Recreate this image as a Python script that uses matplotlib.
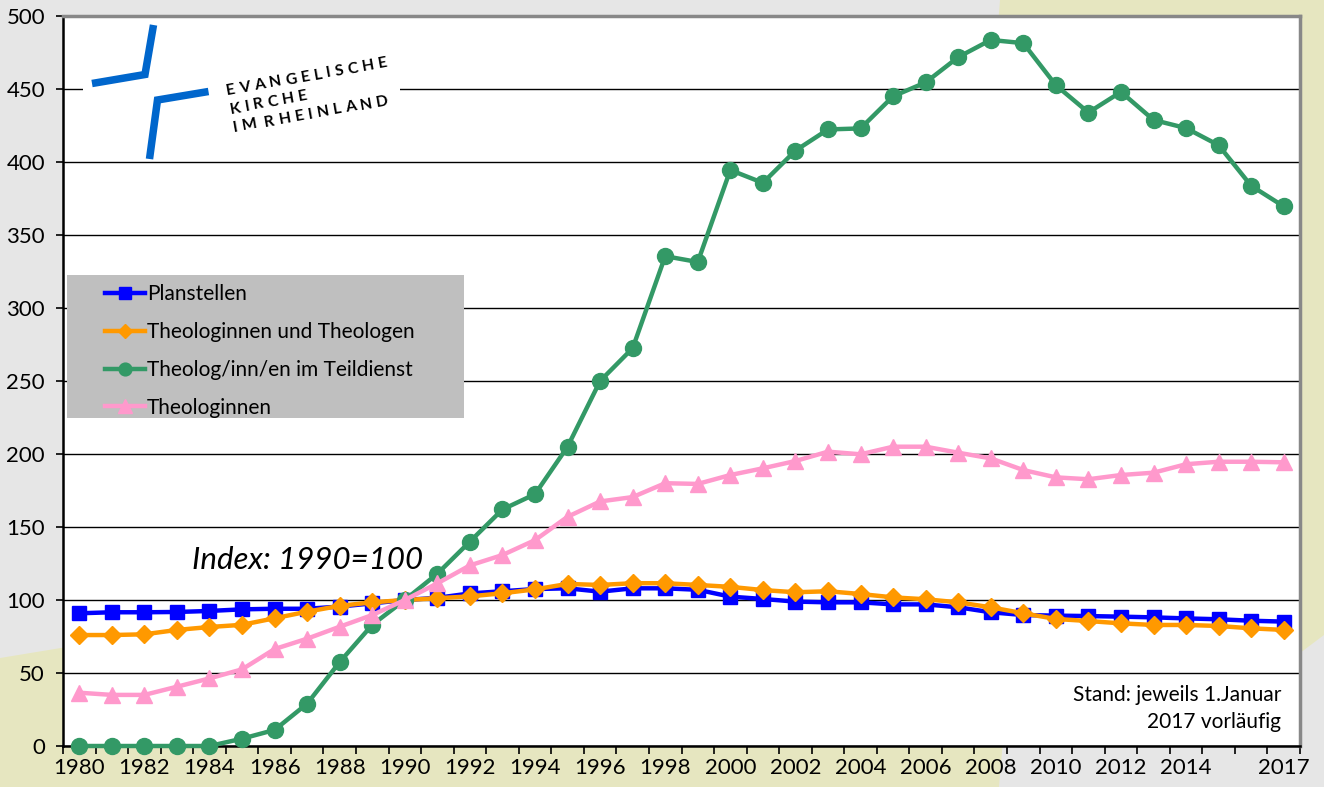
import math
import matplotlib
matplotlib.use("Agg")
import matplotlib.pyplot as plt
from matplotlib.patches import Polygon, Rectangle
from matplotlib.lines import Line2D
from matplotlib.font_manager import FontProperties
from matplotlib.textpath import text_to_path

W, H = 1324, 787

years = list(range(1980, 2018))
planstellen = [90.9, 91.6, 91.6, 91.8, 92.5, 93.6, 94.0, 94.0, 95.5, 97.7,
               100, 101.5, 104.5, 106.0, 107.5, 108.0, 105.7, 108.0, 108.0, 107.0,
               102.3, 100.7, 98.9, 98.4, 98.4, 97.0, 97.0, 95.0, 91.6, 89.7,
               89.3, 89.0, 88.6, 88.1, 87.4, 86.8, 85.8, 85.2]
theologen = [76, 76, 76.5, 79.5, 81.5, 83, 87.5, 92, 96, 98.4,
             100, 101.2, 102.5, 104.6, 107.3, 111, 110.3, 111.5, 111.5, 110.3,
             109, 106.8, 105.3, 106.0, 104.1, 101.8, 100.5, 98.4, 95, 90.9,
             87, 85.6, 84, 82.9, 82.9, 82.2, 80.6, 79.5]
teildienst = [0, 0, 0, 0, 0, 5, 11, 29, 57.5, 83,
              100, 118, 140, 162, 172.5, 205, 250, 272.5, 335.5, 331.5,
              394.5, 385.7, 407.8, 422.3, 423, 445, 454.5, 471.8, 483.6, 481.4,
              452.6, 433.9, 448, 428.8, 423.2, 411.5, 383.7, 369.6]
theologinnen = [36.5, 35, 35, 40.6, 46.3, 52.5, 66.4, 73.5, 81.7, 89.7,
                100, 111.4, 123.7, 130.8, 141, 157, 167.5, 170.5, 180, 179.5,
                185.6, 190.2, 195.2, 201.6, 199.8, 205, 205, 200.9, 197, 189,
                184, 182.7, 185.6, 187.2, 193, 194.7, 194.7, 194.3]

series_names = ["Planstellen", "Theologinnen und Theologen",
                "Theolog/inn/en im Teildienst", "Theologinnen"]
tick_years = [1980, 1982, 1984, 1986, 1988, 1990, 1992, 1994, 1996, 1998,
              2000, 2002, 2004, 2006, 2008, 2010, 2012, 2014, 2017]
y_ticks = [0, 50, 100, 150, 200, 250, 300, 350, 400, 450, 500]

plt.rcParams['font.family'] = ['Lato', 'DejaVu Sans']

fig = plt.figure(figsize=(W / 100, H / 100), dpi=100)
fig.patch.set_facecolor('#e6e6c0')

def fp(x, y):
    return (x / W, 1 - y / H)

# background gray regions
fig.patches.append(Polygon([fp(0, 0), fp(1000, 0), fp(960, 500), fp(0, 658)],
                           closed=True, transform=fig.transFigure,
                           facecolor='#e6e6e6', edgecolor='none', zorder=-10))
fig.patches.append(Polygon([fp(1324, 635), fp(1300, 653), fp(1003, 740),
                            fp(999, 787), fp(1324, 787)],
                           closed=True, transform=fig.transFigure,
                           facecolor='#e6e6e6', edgecolor='none', zorder=-10))

L, R, T, B = 63, 1300, 16, 746
ax = fig.add_axes([L / W, 1 - B / H, (R - L) / W, (B - T) / H])
ax.set_zorder(5)
ax.set_facecolor('white')

def axp(x, y):
    return ((x - L) / (R - L), (B - y) / (B - T))

colors = ['#0000ff', '#ff9900', '#339966', '#ff99cc']
markers = ['s', 'D', 'o', '^']
msizes = [10, 9.5, 11.5, 12]
data = [planstellen, theologen, teildienst, theologinnen]
for vals, c, m, ms, name in zip(data, colors, markers, msizes, series_names):
    ax.plot(years, vals, color=c, lw=3.2, marker=m, ms=ms, mfc=c, mec=c,
            label=name, zorder=3, clip_on=False)

ax.set_xlim(1979.5, 2017.5)
ax.set_ylim(0, 500)
ax.set_yticks(y_ticks)
ax.set_xticks(tick_years)
ax.set_xticks([y + 0.5 for y in range(1979, 2018)], minor=True)
ax.tick_params(axis='x', which='major', length=0, pad=9, labelsize=16)
ax.tick_params(axis='x', which='minor', length=6, width=1.2, direction='out')
ax.tick_params(axis='y', which='major', length=5, width=1.2, pad=8, labelsize=16)
ax.grid(axis='y', color='black', lw=1.0, zorder=0.5)
ax.set_axisbelow(True)

for s in ['left', 'bottom']:
    ax.spines[s].set_color('black')
    ax.spines[s].set_linewidth(1.8)
for s in ['top', 'right']:
    ax.spines[s].set_color('#888888')
    ax.spines[s].set_linewidth(2.5)

# legend background and legend
x0, y0 = axp(67, 418)
x1, y1 = axp(464, 275)
ax.add_patch(Rectangle((x0, y0), x1 - x0, y1 - y0, transform=ax.transAxes,
                       facecolor='#bfbfbf', edgecolor='none', zorder=1))
hx, hy = axp(105, 284)
handles = [Line2D([0], [0], color=c, lw=3.2, marker=m, ms=ms * 0.8, mfc=c, mec=c)
           for c, m, ms in zip(colors, markers, msizes)]
ax.legend(handles, series_names, loc='upper left', bbox_to_anchor=(hx, hy),
          frameon=False, borderpad=0, borderaxespad=0, handlelength=1.9,
          handletextpad=0.1, labelspacing=0.86, fontsize=15)

# logo
bx0, by0 = axp(83, 160)
bx1, by1 = axp(400, 20)
ax.add_patch(Rectangle((bx0, by0), bx1 - bx0, by1 - by0, transform=ax.transAxes,
                       facecolor='white', edgecolor='none', zorder=1))
logo_blue = '#0066cc'
p1 = [axp(92, 83.5), axp(145, 74.5), axp(153.5, 25)]
p2 = [axp(208.5, 91.5), axp(157.5, 100), axp(149.5, 159)]
for pts in (p1, p2):
    ax.add_line(Line2D([p[0] for p in pts], [p[1] for p in pts], color=logo_blue,
                       lw=5.4, solid_joinstyle='miter', solid_capstyle='butt',
                       transform=ax.transAxes, zorder=2))

logo_lines = ["EVANGELISCHE", "KIRCHE", "IM RHEINLAND"]
logo_pos = [(227, 95), (230.5, 113.5), (234, 132)]
logo_size = 11.3
logo_prop = FontProperties(family=['Lato', 'DejaVu Sans'], weight='bold', size=logo_size)
tracking = 4.3
angle = 10.0
ca, sa = math.cos(math.radians(angle)), math.sin(math.radians(angle))
for txt, (px, py) in zip(logo_lines, logo_pos):
    d = 0.0
    for ch in txt:
        if ch == ' ':
            d += 3.5
            continue
        w_pt = text_to_path.get_text_width_height_descent(ch, logo_prop, ismath=False)[0]
        w_px = w_pt * 100 / 72
        cx, cy = px + d * ca, py - d * sa
        tx, ty = axp(cx, cy)
        ax.text(tx, ty, ch, transform=ax.transAxes, rotation=angle,
                rotation_mode='anchor', ha='left', va='baseline',
                fontproperties=logo_prop, color='black', zorder=2)
        d += w_px + tracking

# annotations
ix, iy = axp(192, 569)
ax.text(ix, iy, "Index: 1990=100", transform=ax.transAxes, fontsize=22.5,
        style='italic', ha='left', va='baseline', zorder=4)
sx, sy = axp(1281, 701)
ax.text(sx, sy, "Stand: jeweils 1.Januar", transform=ax.transAxes,
        fontsize=15, ha='right', va='baseline', zorder=4)
sx, sy = axp(1281, 728)
ax.text(sx, sy, "2017 vorläufig", transform=ax.transAxes,
        fontsize=15, ha='right', va='baseline', zorder=4)

fig.savefig("out.png", dpi=100, facecolor=fig.get_facecolor())
